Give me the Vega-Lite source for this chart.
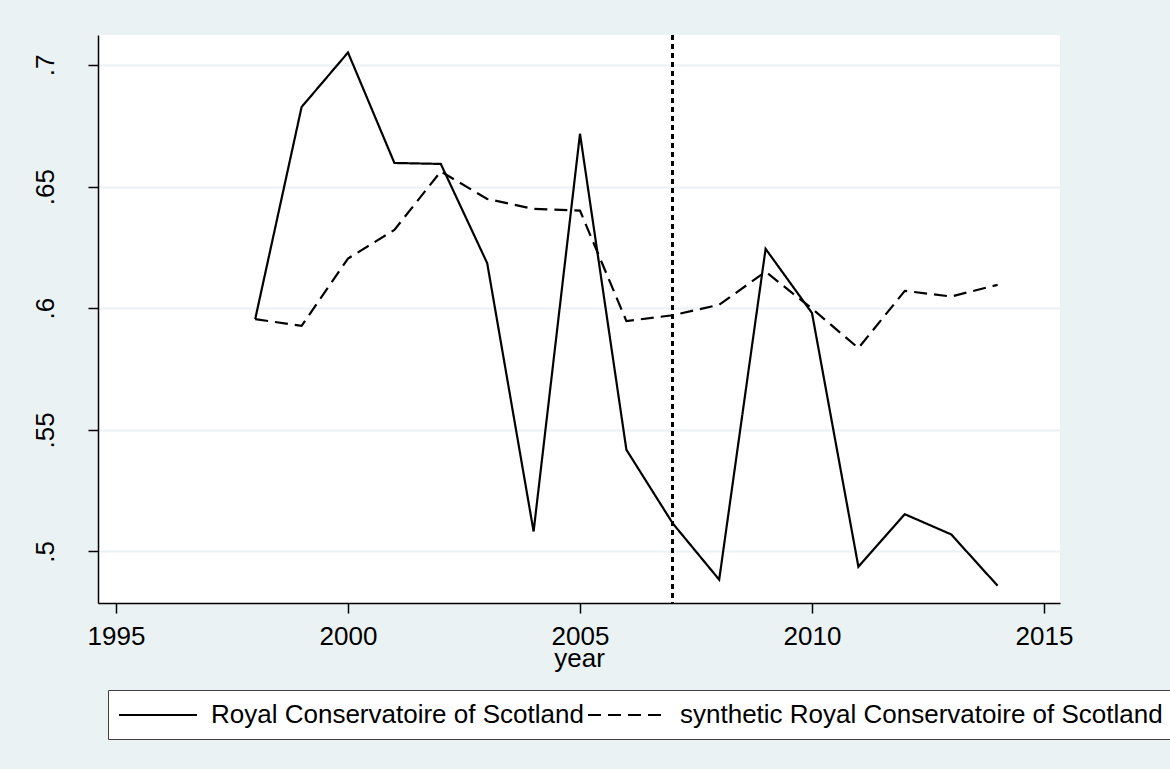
{
  "$schema": "https://vega.github.io/schema/vega-lite/v6.json",
  "width": 962,
  "height": 568,
  "autosize": {"type": "none"},
  "padding": {"left": 98, "top": 35, "right": 110, "bottom": 166},
  "background": "#EAF2F3",
  "config": {
    "view": {"stroke": null, "fill": "white"},
    "font": "Liberation Sans",
    "axis": {
      "labelFont": "Liberation Sans",
      "labelFontSize": 26,
      "labelColor": "black",
      "titleFont": "Liberation Sans",
      "titleFontSize": 26,
      "titleFontWeight": "normal",
      "titleColor": "black",
      "domainColor": "black",
      "domainWidth": 1.5,
      "tickColor": "black",
      "tickWidth": 1.5,
      "tickSize": 10,
      "gridColor": "#EAF2F3",
      "gridWidth": 2,
      "labelFlush": false
    }
  },
  "data": {
    "values": [
      {"year": 1998, "series": "Royal Conservatoire of Scotland", "value": 0.5955},
      {"year": 1999, "series": "Royal Conservatoire of Scotland", "value": 0.6827},
      {"year": 2000, "series": "Royal Conservatoire of Scotland", "value": 0.7051},
      {"year": 2001, "series": "Royal Conservatoire of Scotland", "value": 0.6597},
      {"year": 2002, "series": "Royal Conservatoire of Scotland", "value": 0.6593},
      {"year": 2003, "series": "Royal Conservatoire of Scotland", "value": 0.6185},
      {"year": 2004, "series": "Royal Conservatoire of Scotland", "value": 0.5082},
      {"year": 2005, "series": "Royal Conservatoire of Scotland", "value": 0.6717},
      {"year": 2006, "series": "Royal Conservatoire of Scotland", "value": 0.5418},
      {"year": 2007, "series": "Royal Conservatoire of Scotland", "value": 0.5115},
      {"year": 2008, "series": "Royal Conservatoire of Scotland", "value": 0.4884},
      {"year": 2009, "series": "Royal Conservatoire of Scotland", "value": 0.6244},
      {"year": 2010, "series": "Royal Conservatoire of Scotland", "value": 0.598},
      {"year": 2011, "series": "Royal Conservatoire of Scotland", "value": 0.4937},
      {"year": 2012, "series": "Royal Conservatoire of Scotland", "value": 0.5153},
      {"year": 2013, "series": "Royal Conservatoire of Scotland", "value": 0.507},
      {"year": 2014, "series": "Royal Conservatoire of Scotland", "value": 0.4859},
      {"year": 1998, "series": "synthetic Royal Conservatoire of Scotland", "value": 0.5955},
      {"year": 1999, "series": "synthetic Royal Conservatoire of Scotland", "value": 0.5927},
      {"year": 2000, "series": "synthetic Royal Conservatoire of Scotland", "value": 0.6204},
      {"year": 2001, "series": "synthetic Royal Conservatoire of Scotland", "value": 0.6322},
      {"year": 2002, "series": "synthetic Royal Conservatoire of Scotland", "value": 0.6562},
      {"year": 2003, "series": "synthetic Royal Conservatoire of Scotland", "value": 0.6449},
      {"year": 2004, "series": "synthetic Royal Conservatoire of Scotland", "value": 0.6408},
      {"year": 2005, "series": "synthetic Royal Conservatoire of Scotland", "value": 0.6401},
      {"year": 2006, "series": "synthetic Royal Conservatoire of Scotland", "value": 0.5947},
      {"year": 2007, "series": "synthetic Royal Conservatoire of Scotland", "value": 0.5971},
      {"year": 2008, "series": "synthetic Royal Conservatoire of Scotland", "value": 0.6014},
      {"year": 2009, "series": "synthetic Royal Conservatoire of Scotland", "value": 0.615},
      {"year": 2010, "series": "synthetic Royal Conservatoire of Scotland", "value": 0.5998},
      {"year": 2011, "series": "synthetic Royal Conservatoire of Scotland", "value": 0.5836},
      {"year": 2012, "series": "synthetic Royal Conservatoire of Scotland", "value": 0.6071},
      {"year": 2013, "series": "synthetic Royal Conservatoire of Scotland", "value": 0.6048},
      {"year": 2014, "series": "synthetic Royal Conservatoire of Scotland", "value": 0.6096}
    ]
  },
  "layer": [
    {
      "mark": {"type": "line", "strokeWidth": 2.2, "color": "black"},
      "encoding": {
        "x": {
          "field": "year",
          "type": "quantitative",
          "scale": {"domain": [1994.612, 2015.345], "nice": false, "zero": false},
          "axis": {
            "values": [1995, 2000, 2005, 2010, 2015],
            "format": "d",
            "title": "year",
            "grid": false,
            "labelPadding": 10,
            "titlePadding": -4
          }
        },
        "y": {
          "field": "value",
          "type": "quantitative",
          "scale": {"domain": [0.4788, 0.7123], "nice": false, "zero": false},
          "axis": {
            "values": [0.5, 0.55, 0.6, 0.65, 0.7],
            "labelExpr": "substring(toString(datum.value), 1)",
            "title": null,
            "grid": true,
            "labelAngle": 270,
            "labelAlign": "center",
            "labelBaseline": "bottom",
            "labelPadding": 30
          }
        },
        "strokeDash": {
          "field": "series",
          "type": "nominal",
          "scale": {
            "domain": ["Royal Conservatoire of Scotland", "synthetic Royal Conservatoire of Scotland"],
            "range": [[1, 0], [13, 7]]
          },
          "legend": {
            "orient": "none",
            "legendX": 10,
            "legendY": 655,
            "direction": "horizontal",
            "title": null,
            "symbolType": "M-3,0H3",
            "symbolSize": 676,
            "symbolStrokeWidth": 2,
            "symbolStrokeColor": "black",
            "symbolOffset": 25,
            "labelOffset": 39,
            "labelFontSize": 26,
            "labelFont": "Liberation Sans",
            "labelColor": "black",
            "labelLimit": 900,
            "columnPadding": 0,
            "padding": 11,
            "strokeColor": "#404040",
            "fillColor": "white"
          }
        }
      }
    },
    {
      "mark": {"type": "rule", "strokeDash": [5, 4], "strokeWidth": 2, "color": "black"},
      "encoding": {"x": {"datum": 2007}}
    }
  ]
}
